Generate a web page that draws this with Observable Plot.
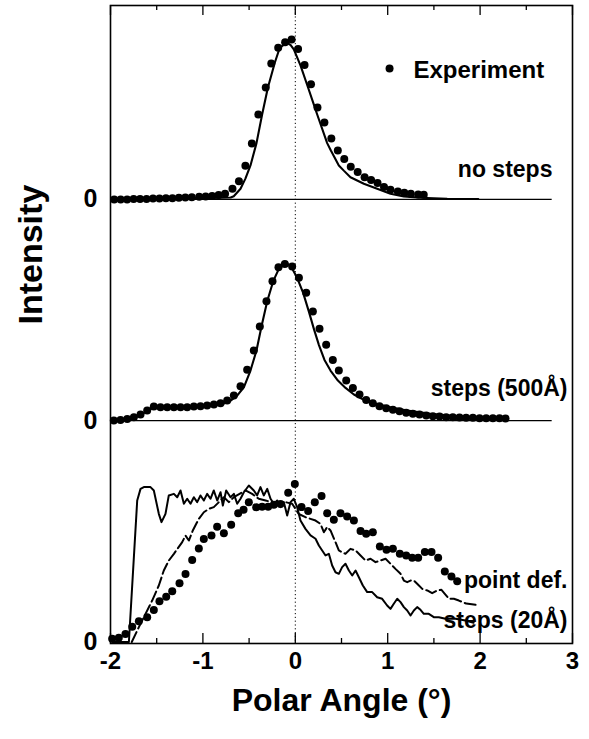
<!DOCTYPE html>
<html><head><meta charset="utf-8">
<script src="https://cdn.jsdelivr.net/npm/d3@7"></script>
<script src="https://cdn.jsdelivr.net/npm/@observablehq/plot@0.6"></script>
<style>body{margin:0;background:#fff}</style>
</head><body><div id="chart"></div>
<script>
// Panel baselines (stacked offsets, intensity units)
const panelOffsets = [0, 1.384, 2.766]; // bottom, middle, top
const panelZeroLabels = ["0", "0", "0"];
const xTicksMajor = [-2, -1, 0, 1, 2, 3];
const xTicksMinor = [-1.5, -0.5, 0.5, 1.5, 2.5];
const xTickLabels = ["-2", "-1", "0", "1", "2", "3"];

// Top panel: no steps
const topExpX = [-1.96,-1.89,-1.82,-1.75,-1.68,-1.61,-1.54,-1.47,-1.40,-1.33,-1.26,-1.19,-1.12,-1.04,-0.97,-0.90,-0.83,-0.76,-0.68,-0.61,-0.54,-0.47,-0.40,-0.32,-0.26,-0.185,-0.11,-0.04,0.03,0.10,0.17,0.24,0.315,0.39,0.46,0.53,0.60,0.675,0.75,0.82,0.89,0.96,1.03,1.11,1.18,1.25,1.33,1.39];
const topExpY = [0.0,0.0,0.0,0.002,0.003,0.003,0.005,0.005,0.007,0.008,0.010,0.012,0.014,0.016,0.019,0.022,0.027,0.036,0.067,0.114,0.21,0.35,0.53,0.70,0.85,0.948,0.983,1.0,0.94,0.84,0.72,0.575,0.48,0.38,0.306,0.252,0.204,0.171,0.138,0.121,0.102,0.077,0.060,0.050,0.042,0.035,0.031,0.029];
const topFitX = [-1.96,-1.5,-1.0,-0.8,-0.70,-0.666,-0.593,-0.54,-0.485,-0.42,-0.359,-0.297,-0.222,-0.168,-0.09,-0.05,-0.016,0.056,0.139,0.2,0.237,0.345,0.385,0.471,0.525,0.597,0.742,0.886,1.03,1.174,1.355,1.644,1.98];
const topFitY = [0.003,0.005,0.008,0.010,0.012,0.02,0.067,0.13,0.2125,0.352,0.531,0.698,0.854,0.948,0.98,0.965,0.9375,0.8375,0.698,0.594,0.531,0.352,0.306,0.2125,0.18,0.139,0.098,0.067,0.035,0.019,0.010,0.004,0.003];

// Middle panel: steps (500Å)
const midExpX = [-1.964,-1.892,-1.819,-1.747,-1.675,-1.603,-1.531,-1.459,-1.386,-1.314,-1.242,-1.170,-1.098,-1.026,-0.954,-0.881,-0.809,-0.737,-0.665,-0.593,-0.521,-0.449,-0.384,-0.312,-0.247,-0.182,-0.113,-0.034,0.039,0.118,0.190,0.262,0.334,0.406,0.471,0.551,0.623,0.695,0.767,0.839,0.911,0.984,1.056,1.128,1.200,1.272,1.344,1.417,1.489,1.561,1.633,1.705,1.777,1.849,1.922,1.994,2.066,2.138,2.210,2.275];
const midExpY = [0,0.004,0.010,0.021,0.0375,0.0625,0.0875,0.083,0.083,0.083,0.083,0.083,0.0875,0.090,0.094,0.100,0.108,0.125,0.156,0.215,0.317,0.4375,0.5875,0.746,0.871,0.958,0.979,0.9625,0.892,0.798,0.681,0.573,0.473,0.379,0.3125,0.25,0.204,0.1625,0.129,0.108,0.090,0.077,0.067,0.058,0.048,0.042,0.0375,0.031,0.027,0.025,0.021,0.021,0.019,0.017,0.017,0.015,0.015,0.015,0.015,0.0125];
const midFitX = [-1.964,-1.819,-1.675,-1.531,-1.386,-1.10,-0.80,-0.70,-0.629,-0.557,-0.485,-0.420,-0.366,-0.304,-0.239,-0.178,-0.106,-0.052,0.020,0.085,0.147,0.201,0.255,0.316,0.381,0.461,0.544,0.634,0.742,0.886,1.030,1.211,1.463,1.788,2.221];
const midFitY = [0,0.008,0.035,0.083,0.083,0.085,0.10,0.125,0.156,0.208,0.3125,0.4375,0.5875,0.746,0.871,0.948,0.983,0.969,0.892,0.798,0.681,0.573,0.473,0.379,0.3125,0.25,0.204,0.1625,0.129,0.104,0.083,0.0625,0.042,0.025,0.015];

// Bottom panel: point defects / steps (20Å)
const botExpX = [-1.982,-1.910,-1.838,-1.765,-1.693,-1.603,-1.531,-1.470,-1.397,-1.332,-1.253,-1.188,-1.116,-1.044,-0.990,-0.907,-0.846,-0.773,-0.694,-0.618,-0.56,-0.503,-0.423,-0.359,-0.294,-0.232,-0.160,-0.077,-0.005,0.067,0.139,0.211,0.284,0.345,0.417,0.489,0.561,0.634,0.706,0.767,0.839,0.915,0.987,1.056,1.131,1.200,1.265,1.330,1.402,1.474,1.546,1.618,1.690,1.752];
const botExpY = [0.02,0.026,0.05,0.096,0.129,0.154,0.2,0.254,0.283,0.317,0.367,0.425,0.513,0.585,0.644,0.665,0.721,0.679,0.733,0.804,0.826,0.873,0.842,0.846,0.846,0.858,0.863,0.932,0.988,0.843,0.818,0.874,0.912,0.805,0.764,0.805,0.784,0.759,0.693,0.676,0.686,0.597,0.576,0.582,0.551,0.541,0.526,0.526,0.562,0.562,0.526,0.441,0.409,0.380];
const botStepsX = [-1.98,-1.801,-1.711,-1.675,-1.639,-1.567,-1.531,-1.477,-1.448,-1.405,-1.369,-1.314,-1.278,-1.242,-1.206,-1.170,-1.134,-1.098,-1.062,-1.026,-0.990,-0.954,-0.918,-0.882,-0.845,-0.809,-0.784,-0.748,-0.701,-0.665,-0.629,-0.593,-0.557,-0.503,-0.449,-0.413,-0.377,-0.341,-0.304,-0.268,-0.232,-0.196,-0.160,-0.124,-0.088,-0.052,-0.016,0.020,0.056,0.110,0.165,0.219,0.255,0.291,0.327,0.363,0.399,0.435,0.471,0.507,0.543,0.580,0.616,0.652,0.688,0.731,0.778,0.832,0.886,0.940,0.994,1.030,1.066,1.103,1.139,1.175,1.211,1.247,1.283,1.319,1.355,1.391,1.445,1.499,1.553,1.626,1.734,1.842,1.93];
const botStepsY = [0.0,0.0,0.884,0.957,0.968,0.968,0.947,0.801,0.749,0.801,0.916,0.926,0.905,0.947,0.864,0.895,0.864,0.905,0.874,0.916,0.884,0.926,0.895,0.947,0.884,0.936,0.853,0.947,0.905,0.926,0.864,0.895,0.936,0.978,0.947,0.916,0.968,0.916,0.957,0.895,0.864,0.884,0.843,0.874,0.791,0.874,0.895,0.843,0.759,0.707,0.666,0.645,0.603,0.572,0.541,0.551,0.478,0.436,0.426,0.468,0.489,0.447,0.416,0.447,0.405,0.353,0.312,0.312,0.280,0.270,0.228,0.207,0.239,0.270,0.249,0.218,0.197,0.166,0.197,0.218,0.201,0.176,0.176,0.155,0.155,0.145,0.145,0.134,0.12];
const botPointX = [-1.77,-1.693,-1.621,-1.549,-1.477,-1.423,-1.369,-1.314,-1.224,-1.188,-1.152,-1.109,-1.044,-0.990,-0.936,-0.882,-0.827,-0.773,-0.719,-0.665,-0.539,-0.467,-0.395,-0.322,-0.250,-0.178,-0.106,-0.034,0.038,0.110,0.219,0.273,0.309,0.345,0.381,0.435,0.471,0.507,0.543,0.597,0.652,0.706,0.760,0.814,0.868,0.922,0.977,1.030,1.084,1.139,1.175,1.211,1.247,1.283,1.319,1.374,1.428,1.481,1.535,1.582,1.618,1.662,1.716,1.770,1.85,1.98];
const botPointY = [0.0,0.093,0.176,0.259,0.353,0.447,0.509,0.551,0.624,0.665,0.634,0.697,0.770,0.811,0.832,0.843,0.874,0.905,0.874,0.905,0.947,0.926,0.895,0.884,0.874,0.864,0.874,0.864,0.80,0.780,0.759,0.738,0.686,0.718,0.697,0.624,0.572,0.561,0.551,0.582,0.572,0.541,0.509,0.520,0.499,0.509,0.520,0.489,0.457,0.426,0.384,0.374,0.384,0.384,0.364,0.332,0.322,0.305,0.322,0.326,0.301,0.270,0.270,0.259,0.24,0.23];

const panelLabels = ["steps (20Å)", "point def.", "steps (500Å)", "no steps"];
const legendLabel = "Experiment";

function zip(xs, ys, off) { return xs.map((x, i) => ({x, y: ys[i] + off})); }
const [offB, offM, offT] = panelOffsets;

const expAll = [
  ...zip(topExpX, topExpY, offT),
  ...zip(midExpX, midExpY, offM),
  ...zip(botExpX, botExpY, offB)
];

const FONT = "Liberation Sans, Arial, Helvetica, sans-serif";
const chart = Plot.plot({
  width: 589, height: 739,
  marginLeft: 110, marginRight: 17, marginTop: 5, marginBottom: 96,
  x: {domain: [-2, 3], axis: null},
  y: {domain: [-0.0094, 3.978], axis: null},
  style: {fontFamily: FONT, fontWeight: "bold", color: "black", background: "white"},
  marks: [
    Plot.ruleY([offT, offM], {x1: -2, x2: 2.78, stroke: "black", strokeWidth: 1.2}),
    Plot.ruleX([0], {stroke: "black", strokeWidth: 1, strokeDasharray: "1.2,2.6"}),
    Plot.line(zip(topFitX, topFitY, offT), {x: "x", y: "y", stroke: "black", strokeWidth: 2.1}),
    Plot.line(zip(midFitX, midFitY, offM), {x: "x", y: "y", stroke: "black", strokeWidth: 2.1}),
    Plot.line(zip(botStepsX, botStepsY, offB), {x: "x", y: "y", stroke: "black", strokeWidth: 2}),
    Plot.line(zip(botPointX, botPointY, offB), {x: "x", y: "y", stroke: "black", strokeWidth: 2, strokeDasharray: "11,4"}),
    Plot.dot(expAll, {x: "x", y: "y", r: 4, fill: "black", stroke: "none"}),
    // inward ticks
    Plot.tickX(xTicksMajor, {x: d => d, insetTop: 628, stroke: "black", strokeWidth: 1.3}),
    Plot.tickX(xTicksMinor, {x: d => d, insetTop: 633, stroke: "black", strokeWidth: 1.3}),
    Plot.tickX(xTicksMajor, {x: d => d, insetBottom: 628, stroke: "black", strokeWidth: 1.3}),
    Plot.tickX(xTicksMinor, {x: d => d, insetBottom: 633, stroke: "black", strokeWidth: 1.3}),
    Plot.frame({stroke: "black", strokeWidth: 1.6}),
    // tick labels
    Plot.text(xTicksMajor, {x: d => d, text: (d, i) => xTickLabels[i], frameAnchor: "bottom", dy: 25.5, fontSize: 24, fill: "black"}),
    Plot.text(panelOffsets, {y: d => d, text: (d, i) => panelZeroLabels[i], frameAnchor: "left", dx: -13, textAnchor: "end", fontSize: 25, fill: "black"}),
    Plot.text(["Intensity"], {frameAnchor: "left", dx: -79, rotate: -90, fontSize: 34, fill: "black"}),
    Plot.text(["Polar Angle (°)"], {frameAnchor: "bottom", dy: 67.5, fontSize: 32, fill: "black"}),
    // legend
    Plot.dot([legendLabel], {x: () => 1.02, y: () => 3.584, r: 4, fill: "black"}),
    Plot.text([legendLabel], {x: () => 1.279, y: () => 3.574, textAnchor: "start", fontSize: 24, fill: "black"}),
    // panel labels
    Plot.text([panelLabels[3]], {x: () => 2.783, y: () => offT + 0.185, textAnchor: "end", fontSize: 23, fill: "black"}),
    Plot.text([panelLabels[2]], {x: () => 2.946, y: () => offM + 0.1985, textAnchor: "end", fontSize: 23, fill: "black"}),
    Plot.text([panelLabels[1]], {x: () => 2.946, y: () => offB + 0.381, textAnchor: "end", fontSize: 23, fill: "black"}),
    Plot.text([panelLabels[0]], {x: () => 2.946, y: () => offB + 0.1325, textAnchor: "end", fontSize: 23, fill: "black"})
  ]
});
document.getElementById("chart").appendChild(chart);
</script>
</body></html>
